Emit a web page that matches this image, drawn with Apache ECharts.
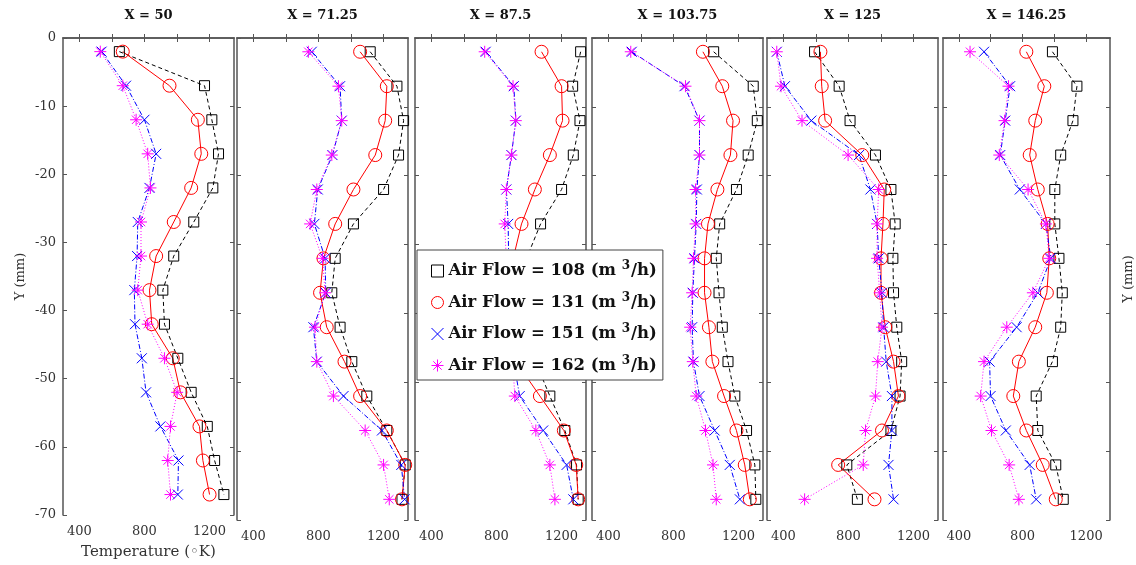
<!DOCTYPE html>
<html>
<head>
<meta charset="utf-8">
<script src="https://cdn.jsdelivr.net/npm/echarts@6/dist/echarts.min.js"></script>
<style>
  html, body { margin: 0; padding: 0; background: #fff; }
  #chart { width: 1136px; height: 565px; }
</style>
</head>
<body>
<div id="chart"></div>
<script>
  // depth positions (mm), shared by every panel
  const yPos = [-2, -7, -12, -17, -22, -27, -32, -37, -42, -47, -52, -57, -62, -67]
  const panelTitles = ['X = 50', 'X = 71.25', 'X = 87.5', 'X = 103.75', 'X = 125', 'X = 146.25']
  const flowRates = ['108', '131', '151', '162']
  const xTicks = [400, 600, 800, 1000, 1200]
  const xLabels = [400, 800, 1200]

  // temperature (K), one row per panel
  const flow108 = [
    [646, 1169, 1214, 1255, 1220, 1103, 980, 913, 923, 1005, 1087, 1186, 1231, 1288],
    [1118, 1282, 1323, 1292, 1200, 1015, 903, 882, 933, 1005, 1097, 1220, 1333, 1313],
    [1317, 1268, 1313, 1272, 1200, 1071, 985, 960, 980, 1040, 1128, 1220, 1292, 1302],
    [1047, 1290, 1315, 1259, 1187, 1084, 1063, 1080, 1100, 1135, 1177, 1249, 1300, 1306],
    [592, 743, 810, 966, 1061, 1087, 1073, 1077, 1097, 1127, 1117, 1061, 790, 855],
    [988, 1142, 1117, 1040, 1003, 1003, 1029, 1050, 1040, 988, 886, 896, 1009, 1056]
  ]
  const flow131 = [
    [667, 954, 1128, 1149, 1087, 980, 872, 831, 845, 974, 1021, 1138, 1159, 1200],
    [1056, 1220, 1210, 1149, 1015, 903, 831, 810, 851, 960, 1056, 1220, 1333, 1313],
    [1077, 1200, 1206, 1128, 1036, 954, 903, 880, 885, 920, 1067, 1214, 1290, 1302],
    [981, 1100, 1166, 1150, 1070, 1012, 991, 991, 1018, 1039, 1111, 1187, 1238, 1269],
    [628, 636, 657, 885, 1020, 1012, 1000, 1000, 1026, 1077, 1107, 1006, 737, 960],
    [824, 937, 880, 845, 896, 958, 968, 953, 880, 777, 742, 824, 927, 1009]
  ]
  const flow151 = [
    [537, 687, 800, 872, 831, 759, 755, 738, 742, 784, 810, 898, 1009, 1005],
    [759, 933, 943, 886, 796, 775, 841, 845, 769, 790, 954, 1190, 1309, 1329],
    [734, 907, 919, 892, 861, 872, 875, 880, 890, 905, 943, 1087, 1231, 1272],
    [544, 868, 960, 960, 944, 940, 929, 919, 915, 923, 960, 1053, 1146, 1208],
    [360, 410, 572, 865, 935, 976, 986, 1006, 1016, 1032, 1067, 1067, 1046, 1077],
    [558, 722, 691, 660, 783, 947, 978, 896, 763, 593, 599, 695, 845, 886]
  ]
  const flow162 = [
    [529, 667, 749, 820, 837, 779, 779, 759, 820, 923, 1001, 960, 943, 960],
    [738, 923, 943, 882, 790, 749, 825, 841, 779, 790, 892, 1087, 1200, 1235],
    [728, 902, 919, 892, 861, 851, 860, 870, 880, 900, 913, 1042, 1128, 1159],
    [538, 874, 960, 960, 936, 936, 923, 915, 903, 919, 940, 997, 1043, 1063],
    [360, 386, 515, 798, 986, 976, 976, 992, 1006, 980, 966, 905, 891, 531],
    [470, 712, 687, 654, 835, 947, 968, 865, 701, 558, 537, 605, 716, 777]
  ]

  const flows = [flow108, flow131, flow151, flow162]
  const styles = [
    {color: '#000', symbol: 'rect', size: 10, dash: [4, 3]},
    {color: '#ff0000', symbol: 'circle', size: 13, dash: 'solid'},
    {color: '#0000ff', symbol: 'path://M0,0L10,10M10,0L0,10', size: 10, dash: [5, 2, 1, 2]},
    {color: '#ff00ff', symbol: 'path://M5,0L5,10M0,5L10,5M1.5,1.5L8.5,8.5M8.5,1.5L1.5,8.5', size: 12, dash: [1, 2]}
  ]
  const gridLefts = [63, 237, 415, 592, 767, 943]
  const axisColor = '#555'
  const labelFont = {color: '#333', fontSize: 13, fontFamily: 'DejaVu Serif'}
  const plain = v => String(v)

  const flowName = f => 'Air Flow = ' + f + ' (m 3/h)'

  const grids = gridLefts.map(l => ({left: l, top: 38, width: 171, height: 482}))
  const xAxes = []
  const yAxes = []
  const series = []

  gridLefts.forEach((l, i) => {
    const tick = {show: true, inside: true, length: 4, customValues: xTicks, lineStyle: {color: axisColor}}
    xAxes.push({
      gridIndex: i, type: 'value', position: 'bottom', min: 300, max: 1350,
      axisLine: {show: true, lineStyle: {color: axisColor, width: 1.5}},
      axisTick: tick,
      axisLabel: Object.assign({customValues: xLabels, margin: 10, formatter: plain}, labelFont),
      splitLine: {show: false},
      name: i === 0 ? 'Temperature (◦K)' : '',
      nameLocation: 'middle', nameGap: 30,
      nameTextStyle: {color: '#333', fontSize: 15, fontFamily: 'DejaVu Serif'}
    })
    xAxes.push({
      gridIndex: i, type: 'value', position: 'top', min: 300, max: 1350,
      axisLine: {show: true, lineStyle: {color: axisColor, width: 1.5}},
      axisTick: tick,
      axisLabel: {show: false},
      splitLine: {show: false},
      name: panelTitles[i], nameLocation: 'middle', nameGap: 16,
      nameTextStyle: {color: '#111', fontSize: 13, fontWeight: 'bold', fontFamily: 'DejaVu Serif'}
    })
    yAxes.push({
      gridIndex: i, type: 'value', position: 'left', min: -70, max: 0, interval: 10,
      axisLine: {show: true, lineStyle: {color: axisColor, width: 1.5}},
      axisTick: {show: true, inside: true, length: 4, lineStyle: {color: axisColor}},
      axisLabel: Object.assign({show: i === 0, margin: 7, formatter: plain}, labelFont),
      splitLine: {show: false},
      name: i === 0 ? 'Y (mm)' : '', nameLocation: 'middle', nameGap: 36,
      nameTextStyle: {color: '#333', fontSize: 13, fontFamily: 'DejaVu Serif'}
    })
    yAxes.push({
      gridIndex: i, type: 'value', position: 'right', min: -70, max: 0, interval: 10,
      axisLine: {show: true, lineStyle: {color: axisColor, width: 1.5}},
      axisTick: {show: true, inside: true, length: 4, lineStyle: {color: axisColor}},
      axisLabel: {show: false},
      splitLine: {show: false},
      name: i === 5 ? 'Y (mm)' : '', nameLocation: 'middle', nameGap: 12,
      nameTextStyle: {color: '#333', fontSize: 13, fontFamily: 'DejaVu Serif'}
    })

    flows.forEach((flow, k) => {
      const s = styles[k]
      series.push({
        type: 'line',
        name: flowName(flowRates[k]),
        xAxisIndex: 2 * i,
        yAxisIndex: 2 * i,
        data: yPos.map((y, j) => [flow[i][j], y]),
        symbol: s.symbol,
        symbolSize: s.size,
        itemStyle: {color: 'transparent', borderColor: s.color, borderWidth: 1},
        lineStyle: {color: s.color, width: 1, type: s.dash},
        animation: false,
        silent: true
      })
    })
  })

  const chart = echarts.init(document.getElementById('chart'))
  chart.setOption({
    backgroundColor: '#fff',
    grid: grids,
    xAxis: xAxes,
    yAxis: yAxes,
    legend: {
      orient: 'vertical',
      left: 417,
      top: 250,
      padding: [10, 6, 6, 14],
      itemGap: 12,
      itemWidth: 12,
      itemHeight: 12,
      itemTextGap: 14,
      backgroundColor: '#fff',
      borderColor: '#444',
      borderWidth: 1,
      data: flowRates.map((f, k) => ({
        name: flowName(f),
        icon: styles[k].symbol,
        itemStyle: {color: 'transparent', borderColor: styles[k].color, borderWidth: 1}
      })),
      formatter: name => {
        const parts = name.split('3/h')
        return '{a|' + parts[0] + '}{s|3}{a|/h)}'
      },
      textStyle: {
        rich: {
          a: {fontSize: 16.5, fontWeight: 'bold', fontFamily: 'DejaVu Serif', color: '#111', lineHeight: 20},
          s: {fontSize: 12, fontWeight: 'bold', fontFamily: 'DejaVu Serif', color: '#111', padding: [0, 1, 10, 0]}
        }
      }
    },
    series: series
  })
</script>
</body>
</html>
